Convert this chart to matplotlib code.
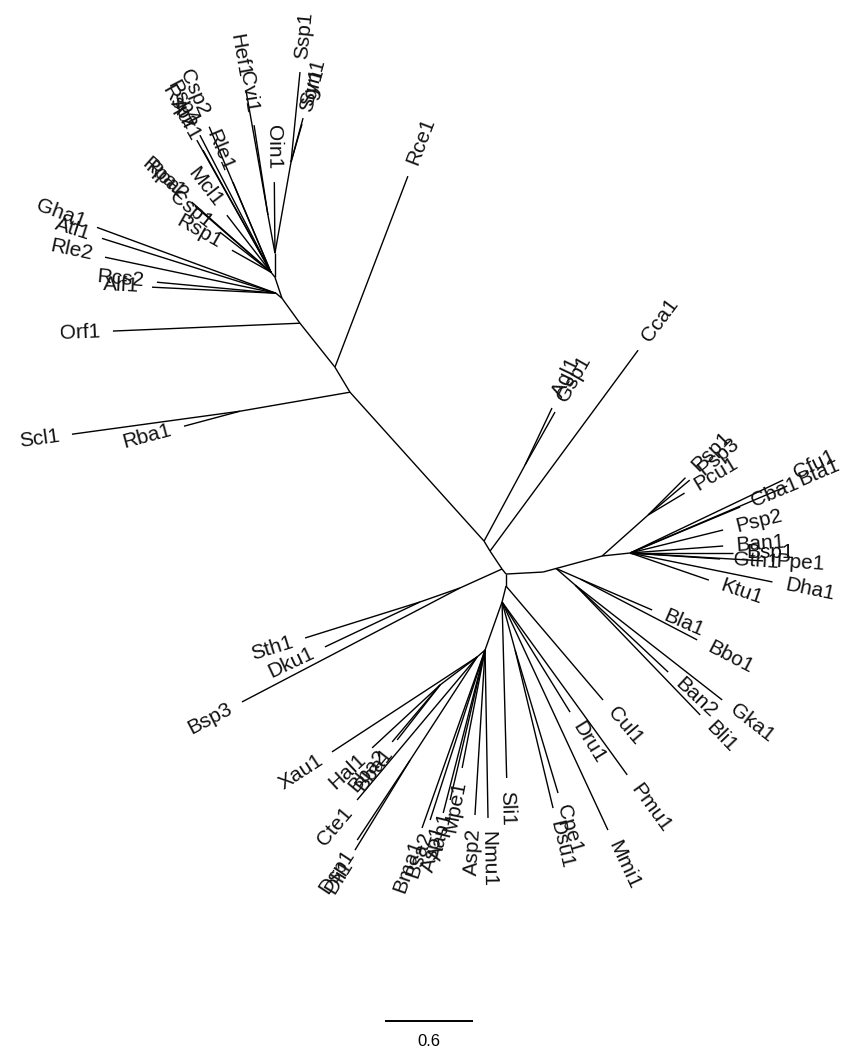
import numpy as np
import matplotlib
matplotlib.use("Agg")
import matplotlib.pyplot as plt

# ---------------- tree data (unrooted, drawn from internal node "A") -------------
# child node, its parent, branch length (substitutions/site), branch direction (deg)
child = [
    "U0", "U1", "Cca1", "G1", "Agl1", "Gsp1", "M1", "S1", "Scl1", "Rba1",
    "M2", "Rce1", "M3", "Orf1", "M4", "T2", "Gha1", "Atl1", "Rle2", "Rcs2",
    "Alf1", "T1", "T3", "HC", "Hef1", "Cvi1", "Oin1", "Sg", "Ssp1", "Syn1",
    "Sgr1", "T4", "Rsp1", "Rpa1", "Rpa2", "Csp1", "Mcl1", "Rle1", "Csp2", "Psp4",
    "Rsp2", "Aur1",
    "B", "R1", "Bn", "R2", "Pn", "Psp1", "Psp3", "Pcu1", "R3", "Cfu1",
    "Bta1", "Cba1", "Psp2", "Ban1", "Bsp1", "Ppe1", "Gth1", "Ktu1", "Dha1",
    "Bb1", "Bla1", "Bbo1", "Bb2", "Ban2", "Gka1", "Bli1",
    "D0", "Cul1", "D1", "Dru1", "Pmu1", "Mmi1", "CD", "Cpe1", "Dsu1", "Sli1",
    "BM", "Bsa2", "Bma1", "Asp1", "Aap1", "Mpe1", "Asp2", "Nmu1",
    "DL", "Xau1", "Hb", "Hal1", "Bba2", "Bba1", "Cte1", "Dd", "Dsp1", "Dli1",
    "L1", "Bsp3", "L2", "Sth1", "Dku1",
]
parent = [
    "A", "U0", "U0", "U1", "G1", "G1", "U1", "M1", "S1", "S1",
    "M1", "M2", "M2", "M3", "M3", "M4", "T2", "T2", "T2", "T2",
    "T2", "M4", "T1", "T3", "HC", "HC", "T3", "T3", "Sg", "Sg",
    "Sg", "T1", "T4", "T4", "T4", "T4", "T4", "T4", "T4", "T4",
    "T4", "T4",
    "A", "B", "R1", "Bn", "R2", "Pn", "Pn", "Pn", "R2", "R3",
    "R3", "R3", "R3", "R3", "R3", "R3", "R3", "R3", "R3",
    "Bn", "Bb1", "Bb1", "Bn", "Bb2", "Bb2", "Bb2",
    "B", "D0", "D0", "D1", "D1", "D1", "D1", "CD", "CD", "D1",
    "D1", "BM", "BM", "BM", "BM", "BM", "BM", "BM",
    "BM", "DL", "DL", "Hb", "Hb", "Hb", "DL", "DL", "Dd", "Dd",
    "A", "L1", "L1", "L2", "L2",
]
branch_length = [
    0.147, 0.079, 1.701, 0.589, 0.430, 0.415, 1.366, 0.761, 1.156, 0.395,
    0.199, 1.394, 0.383, 1.276, 0.210, 0.053, 1.300, 1.244, 1.191, 0.815,
    0.846, 0.151, 0.164, 0.263, 0.865, 0.621, 0.484, 0.630, 0.617, 0.311,
    0.270, 0.044, 0.305, 0.720, 0.686, 0.442, 0.491, 0.666, 1.077, 1.052,
    1.032, 0.952,
    0.044, 0.253, 0.092, 0.325, 0.420, 0.360, 0.370, 0.290, 0.192, 1.156,
    1.164, 0.813, 0.653, 0.636, 0.702, 0.908, 0.615, 0.568, 0.990,
    0.179, 0.534, 0.899, 0.172, 0.868, 1.272, 1.229,
    0.082, 1.020, 0.112, 0.882, 1.455, 1.714, 0.339, 1.018, 1.108, 1.200,
    0.347, 1.218, 1.287, 1.147, 1.050, 0.819, 1.127, 1.145,
    0.072, 1.182, 0.316, 0.632, 0.508, 0.476, 1.273, 0.838, 0.654, 0.720,
    0.314, 1.677, 0.289, 0.821, 0.717,
]
branch_angle = [
    123.7, 121.0, 53.6, 61.7, 64.7, 60.5, 132.0, 189.8, 187.8, 195.0,
    121.0, 69.1, 128.5, 182.4, 125.8, 140.2, 159.8, 162.5, 168.1, 174.7,
    177.2, 108.4, 90.0, 100.4, 100.0, 98.8, 90.5, 80.0, 84.3, 74.7,
    73.9, 128.7, 150.6, 138.5, 139.0, 141.9, 127.7, 112.9, 113.0, 117.4,
    119.3, 119.1,
    -51.3, 3.1, 15.2, 15.2, 41.7, 45.0, 40.0, 31.0, 6.1, 25.5,
    23.1, 22.7, 13.9, 4.3, 0.0, -3.4, -3.8, -19.0, -11.5,
    -23.6, -23.3, -27.5, -41.0, -43.1, -38.0, -46.1,
    -90.0, -49.6, -104.0, -58.3, -54.1, -65.1, -74.8, -73.3, -76.5, -88.5,
    -109.5, -107.9, -109.5, -104.4, -103.1, -101.0, -93.5, -89.0,
    -138.8, -146.8, -142.9, -137.2, -130.1, -128.0, -130.0, -123.0, -123.5, -121.5,
    204.3, 207.6, 199.3, 197.4, 205.3,
]
scale_bar_value = 0.6

# ---------------- layout ---------------------------------------------------------
PX = 146.7                     # pixels per unit branch length
W, H = 842, 1057
root_px = (502, 569)           # where the drawing origin sits in the image

pos = {"A": np.array([0.0, 0.0])}
for c, p, L, a in zip(child, parent, branch_length, branch_angle):
    r = np.deg2rad(a)
    pos[c] = pos[p] + L * np.array([np.cos(r), np.sin(r)])

fig = plt.figure(figsize=(W / 100, H / 100), dpi=100)
ax = fig.add_axes([0, 0, 1, 1])
ax.set_xlim(-root_px[0] / PX, (W - root_px[0]) / PX)
ax.set_ylim(-(H - root_px[1]) / PX, root_px[1] / PX)
ax.axis("off")

for c, p in zip(child, parent):
    ax.plot([pos[p][0], pos[c][0]], [pos[p][1], pos[c][1]],
            color="black", lw=1.0, solid_capstyle="butt")

internal = set(parent)
gap = 13 / PX
for c, a in zip(child, branch_angle):
    if c in internal:
        continue
    aa = ((a + 180) % 360) - 180
    r = np.deg2rad(aa)
    x, y = pos[c] + gap * np.array([np.cos(r), np.sin(r)])
    if -90 < aa <= 90:
        rot, ha = aa, "left"
    else:
        rot, ha = aa - 180 if aa > 0 else aa + 180, "right"
    ax.text(x, y, c, rotation=rot, ha=ha, va="center",
            rotation_mode="anchor", fontsize=15,
            family=["Liberation Sans", "DejaVu Sans"], color="#111111")

# scale bar
xb = (385 - root_px[0]) / PX
yb = (root_px[1] - 1021) / PX
ax.plot([xb, xb + scale_bar_value], [yb, yb], color="black", lw=1.4,
        solid_capstyle="butt")
ax.text(xb + scale_bar_value / 2, (root_px[1] - 1042) / PX, f"{scale_bar_value:g}",
        ha="center", va="center", fontsize=12,
        family=["Liberation Sans", "DejaVu Sans"])

fig.savefig("out.png", dpi=100, facecolor="white")
